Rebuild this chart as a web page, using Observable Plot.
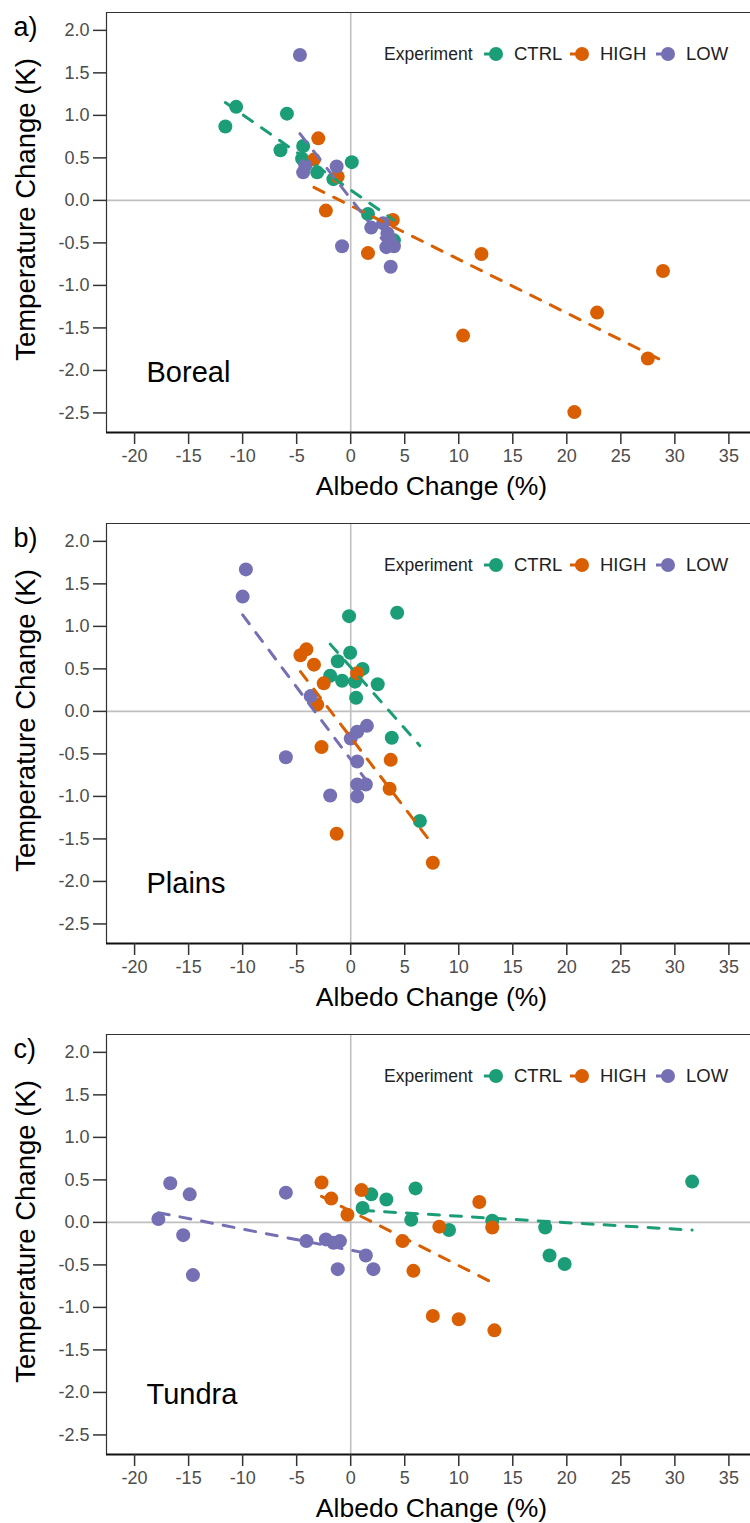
<!DOCTYPE html>
<html>
<head>
<meta charset="utf-8">
<script src="https://cdn.jsdelivr.net/npm/d3@7"></script>
<script src="https://cdn.jsdelivr.net/npm/@observablehq/plot@0.6"></script>
<style>
  body { margin: 0; background: #fff; }
  #chart { width: 750px; }
  #chart svg { display: block; }
</style>
</head>
<body>
<div id="chart"></div>
<script>
// ---- categories, labels, ticks ----
const experiments = ["CTRL", "HIGH", "LOW"];
const colors = ["#1B9E77", "#D95F02", "#7570B3"];
const regions = ["Boreal", "Plains", "Tundra"];
const panelLetters = ["a)", "b)", "c)"];
const xTicks = [-20, -15, -10, -5, 0, 5, 10, 15, 20, 25, 30, 35];
const yTicks = [-2.5, -2.0, -1.5, -1.0, -0.5, 0.0, 0.5, 1.0, 1.5, 2.0];
const xDomain = [-22.6, 37.0];
const yDomain = [-2.73, 2.21];
const xTitle = "Albedo Change (%)";
const yTitle = "Temperature Change (K)";
const legendTitle = "Experiment";

// ---- Boreal ----
const borealCtrlX = [-11.6, -10.6, -6.5, -5.9, -4.4, -4.5, -3.1, -1.6, 0.1, 1.6, 4.0];
const borealCtrlY = [0.87, 1.10, 0.59, 1.02, 0.64, 0.49, 0.33, 0.25, 0.45, -0.16, -0.47];
const borealHighX = [-3.0, -3.4, -1.2, -2.3, 3.9, 1.6, 12.1, 10.4, 22.8, 27.5, 28.9, 20.7];
const borealHighY = [0.73, 0.48, 0.28, -0.12, -0.23, -0.62, -0.63, -1.59, -1.32, -1.86, -0.83, -2.49];
const borealLowX = [-4.7, -1.3, -4.4, -4.2, -0.8, 1.9, 3.0, 3.4, 3.3, 4.0, 3.7, 3.6];
const borealLowY = [1.71, 0.40, 0.33, 0.41, -0.54, -0.32, -0.27, -0.39, -0.55, -0.54, -0.78, -0.45];

// ---- Plains ----
const plainsCtrlX = [-0.15, 4.3, -0.05, -1.2, 1.1, -1.9, -0.8, 0.4, 2.5, 0.5, 3.8, 6.4];
const plainsCtrlY = [1.12, 1.16, 0.69, 0.59, 0.50, 0.42, 0.36, 0.35, 0.32, 0.16, -0.31, -1.29];
const plainsHighX = [-4.1, -4.65, -3.4, -2.5, -3.1, -2.7, -1.3, 0.6, 3.7, 3.6, 7.6];
const plainsHighY = [0.73, 0.66, 0.55, 0.33, 0.08, -0.42, -1.44, 0.45, -0.57, -0.91, -1.78];
const plainsLowX = [-9.7, -10.0, -3.7, -6.0, -1.9, 0.0, 0.6, 1.5, 0.6, 0.6, 1.4, 0.6];
const plainsLowY = [1.67, 1.35, 0.18, -0.54, -0.99, -0.32, -0.24, -0.17, -0.59, -0.86, -0.86, -1.0];

// ---- Tundra ----
const tundraCtrlX = [1.1, 1.9, 3.3, 6.0, 5.6, 9.1, 13.1, 18.0, 18.4, 19.8, 31.6];
const tundraCtrlY = [0.17, 0.33, 0.27, 0.40, 0.03, -0.09, 0.02, -0.06, -0.39, -0.49, 0.48];
const tundraHighX = [-2.7, -1.8, -0.3, 1.0, 4.8, 5.8, 8.2, 11.9, 13.1, 7.6, 10.0, 13.3];
const tundraHighY = [0.47, 0.28, 0.09, 0.38, -0.22, -0.57, -0.05, 0.24, -0.06, -1.10, -1.14, -1.27];
const tundraLowX = [-16.7, -14.9, -17.8, -15.5, -14.6, -6.0, -4.1, -2.3, -1.6, -1.0, -1.2, 1.4, 2.1];
const tundraLowY = [0.46, 0.33, 0.04, -0.15, -0.62, 0.35, -0.22, -0.20, -0.24, -0.22, -0.55, -0.39, -0.55];

const seriesByRegion = [
  [[borealCtrlX, borealCtrlY], [borealHighX, borealHighY], [borealLowX, borealLowY]],
  [[plainsCtrlX, plainsCtrlY], [plainsHighX, plainsHighY], [plainsLowX, plainsLowY]],
  [[tundraCtrlX, tundraCtrlY], [tundraHighX, tundraHighY], [tundraLowX, tundraLowY]]
];

const font = "'Liberation Sans', Arial, Helvetica, sans-serif";
const heights = [511, 511, 501];
const frameBottom = 432;
const marginLeft = 106;

function rowsFor(r) {
  return experiments.flatMap((e, i) => {
    const [xs, ys] = seriesByRegion[r][i];
    return xs.map((x, j) => ({ exp: e, x, y: ys[j] }));
  });
}

function panel(r) {
  const rows = rowsFor(r);
  const h = heights[r];
  const svg = Plot.plot({
    width: 750,
    height: h,
    marginTop: 12,
    marginLeft,
    marginRight: 0,
    marginBottom: h - frameBottom,
    style: { fontFamily: font, background: "#fff", overflow: "visible" },
    x: { domain: xDomain },
    y: { domain: yDomain },
    color: { domain: experiments, range: colors },
    marks: [
      Plot.ruleX([0], { stroke: "#bfbfbf", strokeWidth: 1.6 }),
      Plot.ruleY([0], { stroke: "#bfbfbf", strokeWidth: 1.6 }),
      Plot.ruleY([yDomain[1]], { stroke: "#333", strokeWidth: 1.2 }),
      Plot.ruleX([xDomain[0]], { stroke: "#333", strokeWidth: 1.2 }),
      Plot.ruleY([yDomain[0]], { stroke: "#111", strokeWidth: 2 }),
      Plot.axisX(xTicks, {
        tickSize: 12, tickPadding: 5, fontSize: 18, stroke: "#333", strokeWidth: 1.5,
        fill: "#4d4d4d", tickFormat: d => String(d), label: null
      }),
      Plot.axisY(yTicks, {
        tickSize: 13, tickPadding: 4, fontSize: 18, stroke: "#333", strokeWidth: 1.5,
        fill: "#4d4d4d", tickFormat: d => d.toFixed(1), label: null
      }),
      Plot.dot(rows, { x: "x", y: "y", fill: "exp", r: 7 }),
      Plot.linearRegressionY(rows, {
        x: "x", y: "y", stroke: "exp", ci: 0, strokeWidth: 3, strokeDasharray: "11,11"
      }),
      Plot.text([xTitle], {
        text: d => d, frameAnchor: "bottom", dy: 54, dx: 3, lineAnchor: "middle",
        fontSize: 26.5, fill: "#000"
      }),
      Plot.text([yTitle], {
        text: d => d, frameAnchor: "left", dx: -80, dy: -13, rotate: -90,
        lineAnchor: "middle", textAnchor: "middle", fontSize: 27.5, fill: "#000"
      }),
      Plot.text([panelLetters[r]], {
        text: d => d, frameAnchor: "top-left", dx: -93, dy: 15, textAnchor: "start",
        lineAnchor: "middle", fontSize: 27, fill: "#000"
      }),
      Plot.text([regions[r]], {
        text: d => d, frameAnchor: "bottom-left", dx: 40, dy: -60, textAnchor: "start",
        lineAnchor: "middle", fontSize: 29, fill: "#000"
      })
    ]
  });

  // legend (inside top-right of panel)
  const g = d3.select(svg).append("g")
    .attr("font-family", font).attr("text-anchor", "start");
  const ly = 54;
  g.append("text").attr("x", 384).attr("y", ly).attr("dy", "0.35em")
    .attr("font-size", 17.5).attr("fill", "#222").text(legendTitle);
  experiments.forEach((e, i) => {
    const cx = 496 + i * 86;
    g.append("line").attr("x1", cx - 12).attr("x2", cx - 2).attr("y1", ly).attr("y2", ly)
      .attr("stroke", colors[i]).attr("stroke-width", 3);
    g.append("circle").attr("cx", cx).attr("cy", ly).attr("r", 7).attr("fill", colors[i]);
    g.append("text").attr("x", cx + 18).attr("y", ly).attr("dy", "0.35em")
      .attr("font-size", 18.5).attr("fill", "#222").text(e);
  });
  return svg;
}

const chart = document.getElementById("chart");
regions.forEach((_, r) => chart.appendChild(panel(r)));
</script>
</body>
</html>
